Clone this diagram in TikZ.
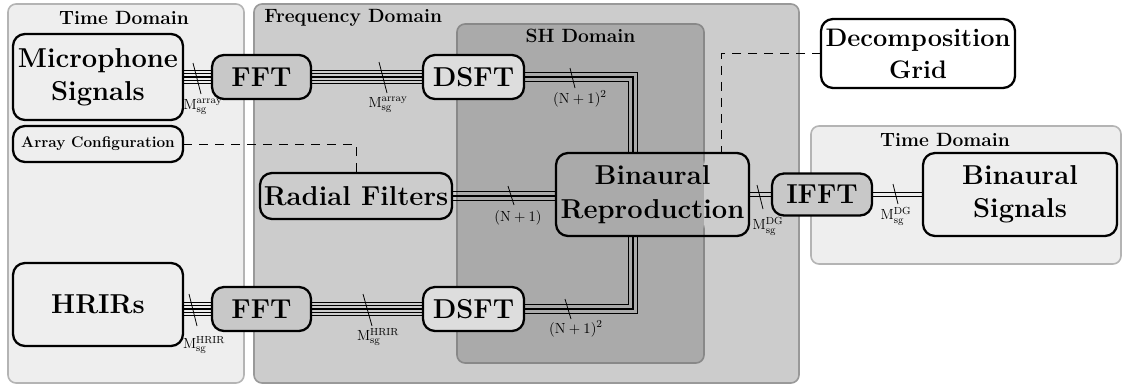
\documentclass[tikz,border=0pt]{standalone}
\usepackage{fontspec}
\usetikzlibrary{calc}
\newlength\px \setlength\px{0.75pt}
\definecolor{timecol}{HTML}{EEEEEE}
\definecolor{timeborder}{HTML}{B4B4B4}
\definecolor{freqcol}{HTML}{CCCCCC}
\definecolor{freqborder}{HTML}{999999}
\definecolor{shcol}{HTML}{AAAAAA}
\definecolor{shborder}{HTML}{888888}
\definecolor{fftcol}{HTML}{C8C8C8}
\definecolor{dsftcol}{HTML}{DDDDDD}
\tikzset{
  panel/.style={rounded corners=6pt, line width=1.2pt},
  ttl/.style={font=\fontsize{14.4}{16}\selectfont\bfseries, inner sep=0pt},
  blk/.style={draw=black, line width=1.7pt, rounded corners=9pt, inner sep=0pt, outer sep=0pt,
    align=center, font=\fontsize{20.5}{25}\selectfont\bfseries},
  wire/.style={line width=1pt},
  tickmark/.style={line width=0.6pt},
  lbl/.style={font=\fontsize{11}{12}\selectfont, inner sep=0pt},
  dashcon/.style={line width=0.7pt, dash pattern=on 7pt off 5pt},
}
\begin{document}
\begin{tikzpicture}[x=0.75pt, y=-0.75pt]
\useasboundingbox (0,0) rectangle (1124,385);

% panels
\draw[panel, fill=timecol, draw=timeborder] (8,4) rectangle (244,383);
\draw[panel, fill=freqcol, draw=freqborder] (254,4) rectangle (799,383);
\draw[panel, fill=shcol, draw=shborder] (457,24) rectangle (704,363);
\draw[panel, fill=timecol, draw=timeborder] (811,126) rectangle (1121,264);

\node[ttl] (tTime1) at (124,18) {Time Domain};
\node[ttl, anchor=west] (tFreq) at (264,18) {Frequency Domain};
\node[ttl] (tSH) at (580.5,36) {SH Domain};
\node[ttl] (tTime2) at (945,140) {Time Domain};

% blocks
\node[blk, fill=timecol, minimum width=170*\px, minimum height=86*\px] (mic) at (98,77) {Microphone\\Signals};
\node[blk, fill=timecol, minimum width=170*\px, minimum height=36*\px, font=\fontsize{11.5}{13}\selectfont\bfseries] (arr) at (98,144) {Array Configuration};
\node[blk, fill=fftcol, minimum width=99*\px, minimum height=44*\px] (fft1) at (261.5,77) {FFT};
\node[blk, fill=dsftcol, minimum width=101*\px, minimum height=44*\px] (dsft1) at (473.5,77) {DSFT};
\node[blk, fill=freqcol, minimum width=192*\px, minimum height=46*\px] (radial) at (356,196) {Radial Filters};
\node[blk, minimum width=193*\px, minimum height=83*\px,
  path picture={
    \fill[shcol] (path picture bounding box.north west) rectangle ([xshift=-45*\px]path picture bounding box.south east);
    \fill[freqcol] ([xshift=-45*\px]path picture bounding box.north east) rectangle (path picture bounding box.south east);
  }] (binrep) at (652.5,194.5) {Binaural\\Reproduction};
\node[blk, fill=white, minimum width=194*\px, minimum height=69*\px, font=\fontsize{19}{24}\selectfont\bfseries] (dg) at (918,53.5) {Decomposition\\Grid};
\node[blk, fill=fftcol, minimum width=100*\px, minimum height=42*\px] (ifft) at (822,194.5) {IFFT};
\node[blk, fill=timecol, minimum width=194*\px, minimum height=83*\px] (bsig) at (1020,194.5) {Binaural\\Signals};
\node[blk, fill=timecol, minimum width=170*\px, minimum height=83*\px] (hrir) at (98,304.5) {HRIRs};
\node[blk, fill=fftcol, minimum width=99*\px, minimum height=44*\px] (fft2) at (261.5,309) {FFT};
\node[blk, fill=dsftcol, minimum width=101*\px, minimum height=44*\px] (dsft2) at (473.5,309) {DSFT};

% bundles
\foreach \k in {-2,...,2} {
  \draw[wire] ([yshift=\k*3.4*\px]mic.east) -- ([yshift=\k*3.4*\px]fft1.west);
  \draw[wire] ([yshift=\k*3.4*\px]fft1.east) -- ([yshift=\k*3.4*\px]dsft1.west);
  \draw[wire] ([yshift=\k*3.4*\px]fft2.west -| hrir.east) -- ([yshift=\k*3.4*\px]fft2.west);
  \draw[wire] ([yshift=\k*3.4*\px]fft2.east) -- ([yshift=\k*3.4*\px]dsft2.west);
}
\foreach \k in {-1,0,1} {
  \draw[wire] ([yshift=\k*4.8*\px]dsft1.east) -| ([xshift={(-19.5+\k*4.8)*\px}]binrep.north);
  \draw[wire] ([yshift=\k*4.8*\px]dsft2.east) -| ([xshift={(-19.5-\k*4.8)*\px}]binrep.south);
  \draw[wire] ([yshift=\k*4.8*\px]radial.east) -- ([yshift=\k*4.8*\px]radial.east -| binrep.west);
}
\foreach \k in {-0.5,0.5} {
  \draw[wire] ([yshift=\k*3.4*\px]binrep.east |- ifft.west) -- ([yshift=\k*3.4*\px]ifft.west);
  \draw[wire] ([yshift=\k*3.4*\px]ifft.east) -- ([yshift=\k*3.4*\px]ifft.east -| bsig.west);
}

% dashed links
\draw[dashcon] (arr.east) -| (radial.north);
\draw[dashcon] (dg.west) -| ([xshift=69*\px]binrep.north);

% tick marks and labels
\draw[tickmark] (193,63) -- (201,94);
\node[lbl] (l1) at (203,107) {$\mathrm{M}_{\mathrm{sg}}^{\mathrm{array}}$};
\draw[tickmark] (379,62) -- (387,93);
\node[lbl] (l2) at (388,105) {$\mathrm{M}_{\mathrm{sg}}^{\mathrm{array}}$};
\draw[tickmark] (570,68) -- (575,88);
\node[lbl] (l3) at (580,99) {$(\mathrm{N}+1)^2$};
\draw[tickmark] (508,186) -- (514,205);
\node[lbl] (l4) at (518,218) {$(\mathrm{N}+1)$};
\draw[tickmark] (757,185) -- (763,209);
\node[lbl] (l5) at (768,226) {$\mathrm{M}_{\mathrm{sg}}^{\mathrm{DG}}$};
\draw[tickmark] (893,184) -- (898,204);
\node[lbl] (l6) at (896,216) {$\mathrm{M}_{\mathrm{sg}}^{\mathrm{DG}}$};
\draw[tickmark] (189,294) -- (197,326);
\node[lbl] (l7) at (204,345) {$\mathrm{M}_{\mathrm{sg}}^{\mathrm{HRIR}}$};
\draw[tickmark] (363,294) -- (372,326);
\node[lbl] (l8) at (378,337) {$\mathrm{M}_{\mathrm{sg}}^{\mathrm{HRIR}}$};
\draw[tickmark] (565,299) -- (571,319);
\node[lbl] (l9) at (576,329) {$(\mathrm{N}+1)^2$};
\end{tikzpicture}
\end{document}
